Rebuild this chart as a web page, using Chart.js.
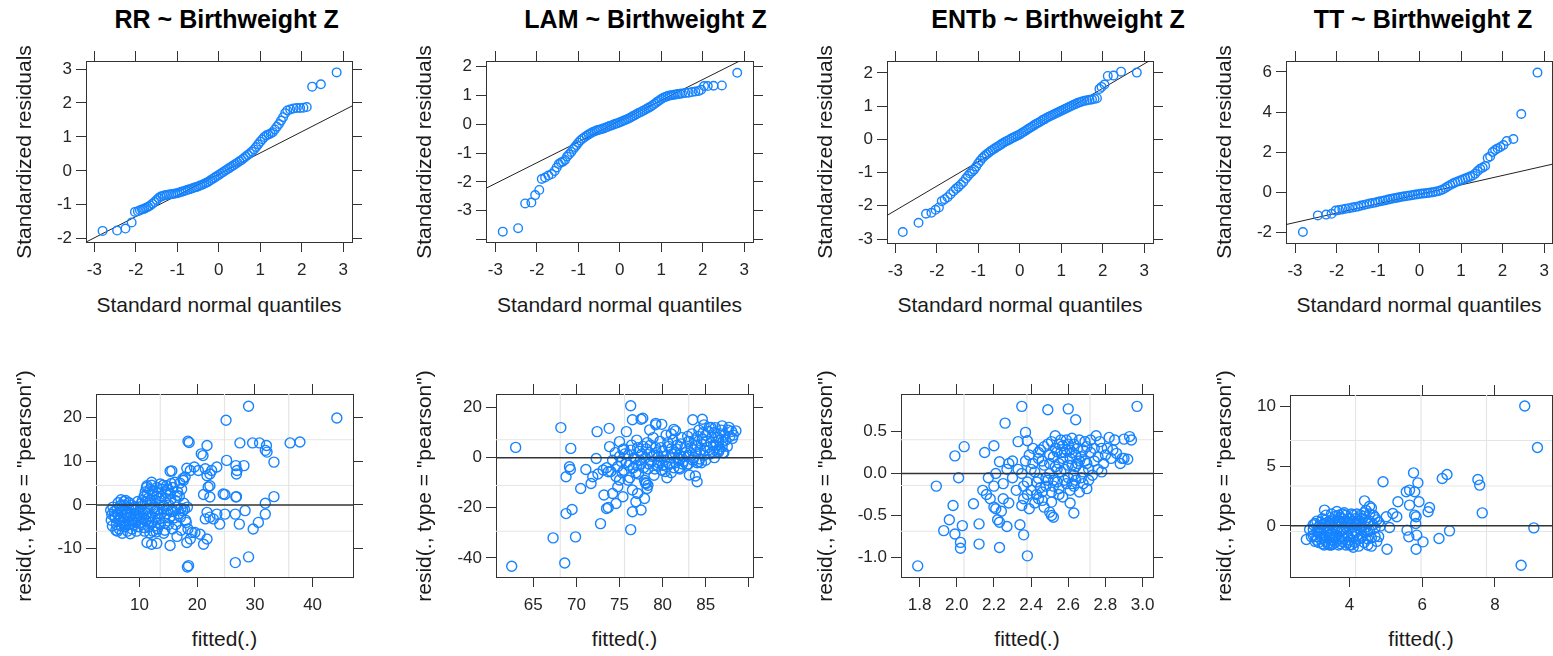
<!DOCTYPE html>
<html><head><meta charset="utf-8">
<script src="https://cdn.jsdelivr.net/npm/chart.js@4.4.1/dist/chart.umd.min.js"></script>
<style>
html,body{margin:0;padding:0;background:#fff;width:1553px;height:656px;overflow:hidden;position:relative;font-family:"Liberation Sans",Arial,Helvetica,sans-serif;}
canvas{position:absolute;}
.t{position:absolute;white-space:nowrap;line-height:1;color:#1a1a1a;}
.title{font-weight:bold;font-size:25px;color:#000;}
.lab{font-size:21px;}
</style></head><body>
<script>
// ---------------- DATA ----------------
const titles = ['RR ~ Birthweight Z','LAM ~ Birthweight Z','ENTb ~ Birthweight Z','TT ~ Birthweight Z'];
const qqXLabel = 'Standard normal quantiles';
const qqYLabel = 'Standardized residuals';
const fitXLabel = 'fitted(.)';
const fitYLabel = 'resid(., type = "pearson")';

const qqXTicks = [-3,-2,-1,0,1,2,3];
const qqXTickLabels = ['-3','-2','-1','0','1','2','3'];
const qqYTicksRR = [-2,-1,0,1,2,3];
const qqYTickLabelsRR = ['-2','-1','0','1','2','3'];
const qqYTicksLAM = [-4,-3,-2,-1,0,1,2];
const qqYTickLabelsLAM = ['','-3','-2','-1','0','1','2'];
const qqYTicksENTb = [-3,-2,-1,0,1,2];
const qqYTickLabelsENTb = ['-3','-2','-1','0','1','2'];
const qqYTicksTT = [-2,0,2,4,6];
const qqYTickLabelsTT = ['-2','0','2','4','6'];

const fitXTicksRR = [10,20,30,40];
const fitXTickLabelsRR = ['10','20','30','40'];
const fitYTicksRR = [-10,0,10,20];
const fitYTickLabelsRR = ['-10','0','10','20'];
const fitXTicksLAM = [65,70,75,80,85,90];
const fitXTickLabelsLAM = ['65','70','75','80','85',''];
const fitYTicksLAM = [-40,-20,0,20];
const fitYTickLabelsLAM = ['-40','-20','0','20'];
const fitXTicksENTb = [1.8,2.0,2.2,2.4,2.6,2.8,3.0];
const fitXTickLabelsENTb = ['1.8','2.0','2.2','2.4','2.6','2.8','3.0'];
const fitYTicksENTb = [-1.0,-0.5,0.0,0.5];
const fitYTickLabelsENTb = ['-1.0','-0.5','0.0','0.5'];
const fitXTicksTT = [4,6,8];
const fitXTickLabelsTT = ['4','6','8'];
const fitYTicksTT = [0,5,10];
const fitYTickLabelsTT = ['0','5','10'];

// QQ points [theoretical quantile, standardized residual]
const qqRR = [[-2.80,-1.77],[-2.45,-1.76],[-2.25,-1.70],[-2.10,-1.52],[-2.02,-1.21],[-1.95,-1.19],[-1.90,-1.16],[-1.85,-1.14],[-1.80,-1.12],[-1.75,-1.09],[-1.70,-1.06],[-1.65,-1.02],[-1.60,-0.97],[-1.55,-0.92],[-1.50,-0.86],[-1.45,-0.80],[-1.40,-0.76],[-1.35,-0.74],[-1.30,-0.72],[-1.25,-0.71],[-1.20,-0.70],[-1.15,-0.69],[-1.10,-0.68],[-1.05,-0.67],[-1.00,-0.66],[-0.95,-0.64],[-0.90,-0.62],[-0.85,-0.60],[-0.80,-0.58],[-0.75,-0.56],[-0.70,-0.54],[-0.65,-0.52],[-0.60,-0.50],[-0.55,-0.48],[-0.50,-0.46],[-0.45,-0.43],[-0.40,-0.41],[-0.35,-0.38],[-0.30,-0.35],[-0.25,-0.32],[-0.20,-0.28],[-0.15,-0.24],[-0.10,-0.20],[-0.05,-0.16],[0.00,-0.12],[0.05,-0.08],[0.10,-0.04],[0.15,0.00],[0.20,0.04],[0.25,0.08],[0.30,0.12],[0.35,0.16],[0.40,0.20],[0.45,0.24],[0.50,0.28],[0.55,0.32],[0.60,0.37],[0.65,0.42],[0.70,0.47],[0.75,0.52],[0.80,0.57],[0.85,0.63],[0.90,0.70],[0.95,0.78],[1.00,0.86],[1.05,0.93],[1.10,1.00],[1.15,1.05],[1.20,1.07],[1.25,1.10],[1.30,1.14],[1.35,1.22],[1.40,1.30],[1.45,1.38],[1.50,1.48],[1.55,1.58],[1.60,1.70],[1.65,1.78],[1.72,1.81],[1.80,1.84],[1.88,1.85],[1.96,1.85],[2.04,1.86],[2.12,1.88],[2.25,2.48],[2.46,2.55],[2.84,2.90]];
const qqLAM = [[-2.82,-3.73],[-2.45,-3.61],[-2.28,-2.75],[-2.13,-2.72],[-2.04,-2.46],[-1.94,-2.28],[-1.88,-1.90],[-1.80,-1.85],[-1.72,-1.78],[-1.64,-1.73],[-1.57,-1.62],[-1.52,-1.50],[-1.47,-1.38],[-1.42,-1.33],[-1.37,-1.30],[-1.32,-1.24],[-1.27,-1.12],[-1.22,-1.04],[-1.17,-0.96],[-1.12,-0.86],[-1.08,-0.79],[-1.04,-0.72],[-1.00,-0.64],[-0.95,-0.56],[-0.90,-0.50],[-0.85,-0.45],[-0.80,-0.40],[-0.75,-0.35],[-0.70,-0.31],[-0.65,-0.27],[-0.60,-0.24],[-0.55,-0.21],[-0.50,-0.19],[-0.45,-0.17],[-0.40,-0.15],[-0.35,-0.12],[-0.30,-0.09],[-0.25,-0.06],[-0.20,-0.04],[-0.15,-0.01],[-0.10,0.02],[-0.05,0.04],[0.00,0.07],[0.05,0.10],[0.10,0.13],[0.15,0.16],[0.20,0.19],[0.25,0.23],[0.30,0.27],[0.35,0.31],[0.40,0.35],[0.45,0.39],[0.50,0.42],[0.55,0.46],[0.60,0.50],[0.65,0.54],[0.70,0.58],[0.75,0.62],[0.80,0.67],[0.85,0.72],[0.90,0.78],[0.95,0.83],[1.00,0.88],[1.05,0.92],[1.10,0.95],[1.15,0.98],[1.20,1.00],[1.25,1.01],[1.30,1.03],[1.35,1.04],[1.40,1.05],[1.45,1.06],[1.50,1.07],[1.58,1.09],[1.66,1.10],[1.74,1.12],[1.82,1.14],[1.90,1.16],[1.96,1.20],[2.03,1.33],[2.12,1.33],[2.26,1.34],[2.46,1.35],[2.83,1.79]];
const qqENTb = [[-2.82,-2.79],[-2.44,-2.51],[-2.26,-2.24],[-2.13,-2.21],[-2.03,-2.12],[-1.95,-2.05],[-1.88,-1.86],[-1.81,-1.80],[-1.74,-1.74],[-1.67,-1.65],[-1.60,-1.56],[-1.54,-1.49],[-1.48,-1.43],[-1.42,-1.36],[-1.36,-1.28],[-1.30,-1.18],[-1.25,-1.10],[-1.20,-1.03],[-1.15,-0.97],[-1.10,-0.91],[-1.05,-0.82],[-1.00,-0.72],[-0.95,-0.64],[-0.90,-0.56],[-0.85,-0.50],[-0.80,-0.45],[-0.75,-0.40],[-0.70,-0.35],[-0.65,-0.31],[-0.60,-0.27],[-0.55,-0.23],[-0.50,-0.19],[-0.45,-0.15],[-0.40,-0.11],[-0.35,-0.07],[-0.30,-0.04],[-0.25,-0.01],[-0.20,0.03],[-0.15,0.06],[-0.10,0.09],[-0.05,0.12],[0.00,0.15],[0.05,0.19],[0.10,0.23],[0.15,0.27],[0.20,0.31],[0.25,0.35],[0.30,0.39],[0.35,0.43],[0.40,0.47],[0.45,0.50],[0.50,0.54],[0.55,0.58],[0.60,0.61],[0.65,0.65],[0.70,0.68],[0.75,0.71],[0.80,0.74],[0.85,0.77],[0.90,0.80],[0.95,0.83],[1.00,0.86],[1.05,0.89],[1.10,0.92],[1.15,0.95],[1.20,0.98],[1.25,1.01],[1.30,1.04],[1.35,1.07],[1.40,1.10],[1.45,1.12],[1.50,1.14],[1.56,1.16],[1.62,1.18],[1.68,1.19],[1.74,1.20],[1.80,1.22],[1.86,1.24],[1.92,1.52],[1.97,1.58],[2.04,1.65],[2.12,1.91],[2.26,1.92],[2.44,2.04],[2.82,2.01]];
const qqTT = [[-2.81,-2.00],[-2.45,-1.17],[-2.25,-1.13],[-2.12,-1.09],[-2.02,-0.93],[-1.94,-0.90],[-1.86,-0.87],[-1.78,-0.84],[-1.70,-0.81],[-1.62,-0.78],[-1.55,-0.75],[-1.48,-0.72],[-1.41,-0.68],[-1.34,-0.65],[-1.27,-0.61],[-1.20,-0.58],[-1.13,-0.55],[-1.06,-0.52],[-1.00,-0.49],[-0.94,-0.46],[-0.88,-0.44],[-0.82,-0.41],[-0.76,-0.38],[-0.70,-0.35],[-0.64,-0.32],[-0.58,-0.30],[-0.52,-0.28],[-0.46,-0.25],[-0.40,-0.23],[-0.34,-0.21],[-0.28,-0.19],[-0.22,-0.17],[-0.16,-0.15],[-0.10,-0.13],[-0.04,-0.11],[0.02,-0.09],[0.08,-0.08],[0.14,-0.06],[0.20,-0.05],[0.26,-0.03],[0.32,-0.01],[0.38,0.01],[0.44,0.04],[0.50,0.08],[0.56,0.13],[0.62,0.20],[0.68,0.28],[0.74,0.35],[0.80,0.42],[0.86,0.48],[0.92,0.53],[0.98,0.58],[1.04,0.63],[1.10,0.68],[1.16,0.72],[1.22,0.77],[1.28,0.83],[1.34,0.92],[1.40,1.05],[1.46,1.16],[1.52,1.22],[1.58,1.30],[1.64,1.70],[1.70,1.78],[1.76,2.00],[1.82,2.10],[1.88,2.18],[1.95,2.25],[2.02,2.35],[2.10,2.55],[2.26,2.65],[2.45,3.90],[2.84,5.97]];

// QQ reference lines (two end points)
const qqLineRR = [[-3.20,-2.10],[3.21,1.91]];
const qqLineLAM = [[-3.22,-2.22],[3.22,2.44]];
const qqLineENTb = [[-3.20,-2.29],[3.21,2.43]];
const qqLineTT = [[-3.22,-1.63],[3.20,1.39]];

// residuals vs fitted [fitted, pearson residual]
const fitRR = [[44.2,19.9],[28.9,22.6],[25.0,19.4],[18.4,14.6],[18.6,14.3],[21.7,13.6],[20.7,11.7],[21.0,11.3],[27.4,14.2],[29.6,14.2],[30.8,14.2],[32.0,13.6],[31.8,12.5],[32.1,12.1],[36.1,14.2],[37.8,14.4],[33.3,9.8],[25.1,10.2],[23.4,8.7],[22.5,7.9],[26.7,9.0],[26.9,7.9],[26.8,7.1],[28.1,9.0],[19.5,8.7],[18.2,8.4],[18.8,7.9],[15.3,7.7],[17.9,6.4],[17.6,5.6],[20.2,7.9],[21.4,8.3],[21.7,6.7],[22.2,7.1],[22.2,4.4],[21.9,4.1],[24.5,2.5],[24.8,2.4],[21.1,2.4],[22.2,1.8],[26.7,1.8],[26.8,1.9],[33.3,1.9],[31.8,0.4],[21.4,-3.2],[23.4,-2.1],[22.8,-3.2],[23.9,-4.4],[21.7,-1.7],[22.2,-2.8],[24.8,-2.1],[26.6,-2.1],[27.3,-4.4],[28.3,-1.3],[29.7,-5.5],[30.6,-4.0],[31.8,-2.1],[19.6,-6.3],[20.5,-6.7],[21.1,-9.0],[21.7,-7.8],[18.8,-7.8],[18.2,-8.6],[18.5,-13.9],[18.3,-14.2],[26.6,-13.2],[28.9,-11.9],[15.3,-9.3],[11.3,-8.6],[12.1,-9.0],[18.4,-5.5],[19.1,-6.3],
[5.0,-1.2],[5.1,-3.5],[5.3,-4.8],[5.2,-2.2],[5.6,-1.5],[5.8,-3.0],[6.0,-4.5],[6.2,-2.0],[6.3,0.5],[6.5,-5.5],[6.6,-3.5],[6.8,1.2],[6.9,-1.0],[7.0,-6.5],[7.1,-4.0],[7.2,-2.5],[7.4,0.0],[7.5,-5.0],[7.6,1.0],[7.8,-3.0],[7.9,-6.0],[8.0,-1.5],[8.2,0.5],[8.3,-4.5],[8.5,-2.0],[8.7,-5.5],[8.8,-3.5],[9.0,-1.0],[9.1,-0.5],[9.3,-4.0],[9.5,-2.5],[9.7,0.8],[9.8,-5.0],[10.0,-3.0],[10.1,-1.5],[10.3,0.3],[10.4,-4.5],[10.6,-2.0],[10.8,2.0],[10.9,-6.0],[11.0,3.0],[11.1,-3.5],[11.2,4.0],[11.3,-1.0],[11.5,1.5],[11.6,-5.0],[11.7,-2.5],[11.8,3.5],[12.0,0.0],[12.1,4.5],[12.2,-4.0],[12.3,-6.0],[12.4,2.5],[12.6,-1.5],[12.7,-3.0],[12.8,1.0],[13.0,4.0],[13.1,-5.5],[13.2,-2.0],[13.3,3.0],[13.5,0.5],[13.6,-4.5],[13.8,2.0],[14.0,-1.0],[14.1,4.5],[14.2,-6.5],[14.3,-3.0],[14.5,1.5],[14.7,-2.0],[14.8,3.5],[15.0,-4.5],[15.1,0.0],[15.3,2.5],[15.5,-1.5],[15.6,7.8],[15.7,-5.5],[15.8,4.0],[16.0,-3.0],[16.2,1.0],[16.4,-0.5],[16.6,3.0],[16.8,-2.0],[17.0,5.0],[17.2,-0.8],[17.5,6.0],[17.8,-1.0],[18.0,-3.5],[18.1,-4.0],[18.3,-0.5],[17.5,-1.3],[16.9,2.0],[11.3,4.4],[12.1,5.2],[13.6,4.8],[14.7,4.4],
[5.4,-0.5],[5.7,-2.6],[5.9,-5.8],[6.1,-1.0],[6.4,-3.2],[6.7,-0.2],[6.8,-4.8],[7.0,-1.8],[7.3,-3.6],[7.3,0.8],[7.7,-2.2],[7.7,-4.4],[8.1,-3.8],[8.1,-0.6],[8.4,-2.8],[8.6,0.0],[8.9,-4.6],[9.2,-2.0],[9.4,-0.8],[9.6,-3.4],[9.9,-1.8],[10.2,-4.0],[10.2,-0.4],[10.5,1.0],[10.7,-3.0],[10.9,-5.2],[11.0,0.6],[11.2,-2.0],[11.4,2.6],[11.6,-3.8],[11.9,1.2],[12.0,-2.6],[12.3,3.2],[12.5,-0.6],[12.6,-4.8],[12.9,2.0],[13.1,-1.0],[13.4,-3.2],[13.4,1.6],[13.7,-2.0],[13.9,3.6],[14.2,-0.2],[14.4,-4.2],[14.6,2.8],[14.9,-1.2],[15.2,-3.0],[15.4,1.2],[15.9,-1.5],[16.3,-4.5],[16.5,2.2],[17.1,-2.8],[17.3,3.6],[17.7,0.4],[16.1,5.2],[14.4,-5.8],[12.9,-6.2],[11.8,-6.4],[9.5,-6.0],[8.4,-6.6],[6.2,-6.0],[13.0,-8.8],[16.5,-7.2],[17.2,-5.8],[15.5,4.9]];
const fitLAM = [[62.5,-43.3],[62.96,4.1],[68.2,12.0],[67.3,-32.0],[68.65,-42.0],[68.8,-22.3],[69.5,-20.7],[69.9,-31.6],[69.35,3.7],[69.2,-3.6],[69.3,-4.7],[68.8,-7.6],[70.5,-12.3],[71.1,-4.7],[71.7,-10.3],[72.3,-0.3],[72.4,10.4],[73.8,11.7],[72.8,-26.3],[73.2,-14.9],[73.5,-20.3],[73.7,-19.9],[73.85,4.4],[71.9,-7.6],[72.5,-6.5],[73.1,-4.9],[73.7,-5.6],[74.6,-18.3],[74.2,-14.3],[74.8,-11.6],[75.0,-8.9],[75.4,-15.6],[76.3,-28.7],[76.3,20.7],[75.8,10.4],[76.5,15.1],[77.5,15.3],[77.7,15.7],[75.0,6.4],[75.4,3.1],[76.5,-21.6],[77.5,-20.9],[76.9,-17.6],[76.5,-12.9],[77.1,-14.3],[77.9,-16.3],[78.1,-10.3],[78.2,-12.3],[83.5,15.1],[84.6,15.3],[84.8,13.1],[85.6,12.1],[86.9,12.7],[87.7,12.1],[88.5,10.7],[88.1,7.7],[86.5,2.4],[87.1,2.0],[83.1,-6.9],[83.8,-7.3],[84.0,-9.6],[84.2,-1.6],[79.2,13.7],[79.9,13.3],[81.3,11.3],[81.5,10.7],[78.5,11.1],[79.2,13.1],
[74.2,-1.0],[74.5,2.0],[74.8,-3.5],[75.0,0.5],[75.3,-6.0],[75.5,3.5],[75.8,-2.0],[76.0,1.0],[76.2,-8.0],[76.4,5.0],[76.6,-4.0],[76.8,-0.5],[77.0,7.0],[77.2,-6.5],[77.3,2.5],[77.5,-2.5],[77.7,4.5],[77.9,-9.0],[78.0,0.0],[78.2,6.0],[78.3,-4.5],[78.5,2.0],[78.7,-1.5],[78.9,8.0],[79.0,-7.0],[79.2,4.0],[79.4,-3.0],[79.5,0.5],[79.7,6.5],[79.9,-5.0],[80.0,2.5],[80.2,-1.0],[80.4,9.0],[80.5,-3.5],[80.7,4.5],[80.9,0.0],[81.0,-6.0],[81.2,7.0],[81.4,2.0],[81.5,-2.0],[81.7,5.0],[81.9,-4.0],[82.0,1.0],[82.2,8.0],[82.4,-1.5],[82.6,4.0],[82.8,-3.0],[83.0,6.5],[83.2,2.0],[83.4,9.5],[83.6,0.0],[83.8,5.0],[84.0,-2.0],[84.2,11.0],[84.4,3.0],[84.6,7.5],[84.8,1.0],[85.0,9.0],[85.2,4.0],[85.4,12.0],[85.6,6.0],[85.8,2.5],[86.0,10.0],[86.2,5.0],[86.4,8.0],[86.6,3.5],[86.8,11.0],[87.0,6.5],[87.2,9.0],[87.5,4.5],[87.8,8.5],[88.0,10.5],[85.0,-1.0],[84.3,-0.5],[83.0,-2.5],[82.0,-4.5],[80.5,-8.0],[78.0,-10.0],[78.3,-11.0],[77.0,-3.0],[76.0,-9.0],[75.5,-5.0],[74.0,-5.5],[73.5,-4.0],[74.6,-7.5],[79.5,-2.0],[81.0,3.5],[82.5,0.5],[84.0,4.5],[86.0,0.0],[86.5,7.0],[87.0,2.0],
[75.2,-1.5],[75.6,1.5],[76.1,-3.0],[76.3,3.0],[76.7,0.0],[76.9,-6.0],[77.1,4.0],[77.4,-1.0],[77.6,1.5],[77.8,-4.0],[78.1,3.5],[78.4,-2.5],[78.6,5.0],[78.8,0.5],[79.1,-4.5],[79.3,2.0],[79.6,-1.0],[79.8,4.0],[80.1,0.5],[80.3,-5.5],[80.6,6.0],[80.8,-2.5],[81.1,1.5],[81.3,-4.0],[81.6,3.5],[81.8,0.0],[82.1,5.5],[82.3,-2.5],[82.7,2.0],[82.9,8.5],[83.3,4.0],[83.5,-1.0],[83.7,7.0],[83.9,2.0],[84.1,8.5],[84.5,5.5],[84.7,10.0],[84.9,3.0],[85.1,6.5],[85.3,10.5],[85.5,1.5],[85.7,8.0],[85.9,5.0],[86.1,12.0],[86.3,2.5],[86.7,9.5],[86.9,4.5],[87.3,7.0],[87.6,11.0],[88.2,9.0],[80.0,-3.0],[82.0,-0.5],[79.0,1.0],[81.0,9.5],[83.0,1.0],[84.5,-2.0]];
const fitENTb = [[1.79,-1.10],[1.89,-0.15],[1.99,0.21],[2.01,-0.05],[2.04,0.32],[1.98,-0.38],[1.96,-0.55],[1.93,-0.68],[1.99,-0.72],[2.02,-0.82],[2.02,-0.89],[2.03,-0.62],[2.09,-0.36],[2.12,-0.60],[2.12,-0.84],[2.15,0.25],[2.20,0.33],[2.23,-0.88],[2.26,0.60],[2.33,0.38],[2.38,0.39],[2.37,0.49],[2.35,0.80],[2.49,0.76],[2.60,0.77],[2.64,0.64],[2.97,0.80],[2.34,-0.61],[2.36,-0.73],[2.38,-0.98],[2.51,-0.34],[2.50,-0.46],[2.51,-0.50],[2.52,-0.52],[2.61,-0.35],[2.63,-0.47],[2.70,-0.18],[2.78,0.02],[2.92,0.17],[2.90,0.18],[2.90,0.41],[2.93,0.44],[2.94,0.40],
[2.14,-0.20],[2.16,-0.25],[2.18,-0.30],[2.20,-0.40],[2.21,-0.42],[2.22,-0.55],[2.24,-0.45],[2.23,-0.58],[2.25,-0.30],[2.27,-0.63],[2.28,-0.35],[2.17,-0.05],[2.20,-0.15],[2.21,0.00],[2.23,0.14],[2.25,-0.12],[2.27,0.05],[2.28,0.12],[2.30,-0.05],[2.30,0.15],[2.32,-0.20],[2.33,0.05],[2.35,-0.38],[2.36,-0.30],[2.37,0.15],[2.38,-0.10],[2.39,-0.42],[2.40,-0.20],[2.41,0.30],[2.42,0.02],[2.43,-0.25],[2.44,-0.06],[2.45,0.28],[2.46,-0.32],[2.47,0.10],[2.48,-0.15],[2.49,0.35],[2.50,0.00],[2.51,-0.22],[2.52,0.20],[2.53,0.45],[2.54,-0.10],[2.55,0.12],[2.56,0.40],[2.57,-0.28],[2.58,0.05],[2.59,0.28],[2.60,-0.05],[2.61,0.18],[2.62,0.42],[2.63,-0.15],[2.64,0.08],[2.65,0.30],[2.66,-0.22],[2.67,0.20],[2.68,0.02],[2.69,0.38],[2.70,0.12],[2.71,-0.08],[2.72,0.25],[2.74,0.15],[2.75,0.45],[2.76,0.05],[2.78,0.30],[2.80,0.22],[2.82,0.43],[2.84,0.28],[2.86,0.24],[2.88,0.12],[2.89,0.18],[2.46,0.15],[2.55,-0.18],[2.58,0.25],[2.62,0.10],[2.53,0.30],[2.44,0.18],[2.50,0.22],[2.57,0.33],[2.60,0.35],[2.66,0.15],[2.48,-0.05],[2.54,0.05],[2.63,-0.02],[2.40,0.05],[2.35,0.00],[2.42,-0.35],[2.45,-0.17],[2.59,-0.12],[2.52,-0.08],[2.64,0.22],[2.56,0.25],[2.61,0.28],
[2.41,0.12],[2.43,-0.10],[2.44,0.25],[2.46,-0.22],[2.47,0.32],[2.49,-0.08],[2.50,0.12],[2.51,0.38],[2.52,-0.15],[2.53,0.08],[2.54,0.26],[2.55,-0.25],[2.56,0.02],[2.57,0.18],[2.58,-0.08],[2.59,0.40],[2.60,0.10],[2.61,-0.20],[2.62,0.25],[2.63,0.35],[2.64,-0.08],[2.65,0.12],[2.66,0.40],[2.67,-0.05],[2.68,0.28],[2.69,0.15],[2.70,0.32],[2.71,0.05],[2.72,0.40],[2.73,-0.02],[2.74,0.30],[2.76,0.20],[2.77,0.38],[2.79,0.12],[2.81,0.30],[2.83,0.18],[2.85,0.40],[2.47,-0.40],[2.44,-0.30],[2.38,-0.25],[2.36,-0.15],[2.39,0.22],[2.55,0.35],[2.62,-0.12],[2.68,-0.12]];
const fitTT = [[8.82,10.06],[9.17,6.58],[8.72,-3.31],[9.07,-0.17],[7.53,3.89],[7.58,3.42],[7.65,1.09],[6.55,3.98],[6.68,4.31],[6.75,-0.42],[6.46,-1.06],[5.76,4.45],[5.88,3.61],[5.56,2.86],[5.65,3.00],[5.79,2.86],[5.91,2.02],[5.33,2.02],[5.65,1.74],[6.20,1.54],[6.16,1.18],[4.92,3.70],[5.79,0.90],[5.83,0.76],[5.19,1.04],[5.30,0.76],[5.82,0.20],[5.58,-0.36],[5.63,-0.92],[5.85,-0.78],[5.83,-1.96],[6.02,-1.34],[5.03,-1.96],[5.10,-0.14],[5.01,0.76],[4.41,2.10],[4.55,1.65],[3.31,1.32],[2.81,-1.15],
[2.9,-0.3],[3.0,-0.8],[3.05,0.2],[3.1,-1.2],[3.15,-0.5],[3.2,0.3],[3.25,-1.0],[3.3,-0.2],[3.35,0.5],[3.4,-1.5],[3.45,-0.7],[3.5,0.1],[3.55,-1.2],[3.6,0.8],[3.65,-0.4],[3.7,-1.6],[3.75,0.3],[3.8,-0.9],[3.85,1.1],[3.9,-0.1],[3.95,-1.4],[4.0,0.6],[4.05,-0.6],[4.1,-1.8],[4.15,0.2],[4.2,1.0],[4.25,-1.1],[4.3,-0.3],[4.35,0.6],[4.4,-1.4],[4.45,1.3],[4.5,-0.5],[4.55,0.4],[4.6,-1.0],[4.65,0.9],[4.7,-0.2],[4.75,-1.3],[4.8,0.3],[3.3,-1.6],[3.5,-1.6],[3.6,-0.2],[3.7,0.4],[3.8,-1.3],[3.4,0.0],[3.2,-0.6],[4.0,-1.2],[4.1,0.9],[3.9,0.9],[3.75,-0.5],[4.2,-0.8],[4.3,0.2],[3.55,0.5],[3.65,1.2],[3.45,-1.0],[3.35,-0.9],[3.6,-1.0],[3.9,-0.6],[4.05,0.1],[4.4,0.8],[4.5,-1.6],[4.55,1.0],[4.6,1.5],[4.7,0.7],[4.8,-0.9],[4.85,0.0],[4.45,-0.1],[4.25,0.4],[3.95,0.3],[3.85,-0.3],[3.15,-0.1],[3.0,-0.3],[3.1,0.4],[3.25,0.6],[3.5,1.0],[4.05,-1.6],[3.8,0.6],[4.15,-0.4],[4.35,-0.8],[3.7,-1.1],[3.4,0.3],
[2.95,-0.9],[3.0,0.1],[3.05,-1.3],[3.1,-0.5],[3.15,-1.4],[3.2,-0.2],[3.25,-1.5],[3.3,0.2],[3.3,-0.8],[3.35,-1.3],[3.4,-0.4],[3.45,0.4],[3.45,-1.6],[3.5,-0.6],[3.55,-0.1],[3.55,-1.5],[3.6,0.3],[3.6,-1.4],[3.65,-0.8],[3.7,-0.1],[3.7,0.9],[3.75,-1.5],[3.75,0.7],[3.8,-0.3],[3.85,-1.1],[3.85,0.4],[3.9,-1.6],[3.9,0.3],[3.95,-0.8],[4.0,-0.2],[4.0,-1.6],[4.05,1.0],[4.1,-0.9],[4.1,0.4],[4.15,-1.4],[4.2,0.1],[4.2,-0.5],[4.25,-1.7],[4.3,0.9],[4.3,-1.0],[4.35,-0.1],[4.4,-0.5],[4.45,0.5],[4.5,-1.1],[4.5,0.2],[4.55,-0.4],[4.6,-1.7],[4.65,0.1],[4.7,-0.9],[4.75,0.5],[3.35,0.9],[3.25,0.1],[3.5,-1.0],[3.65,0.5],[3.8,1.0],[4.0,0.3],[4.15,0.6],[4.4,1.1],[3.1,-0.9],[3.2,-1.1]];

const fitRefY = [0];

// ---------------- LAYOUT ----------------
const FONT = '"Liberation Sans", Arial, Helvetica, sans-serif';
const panels = [
  {box:[86,61,266,181],  xr:[-3.20,3.21], yr:[-2.097,3.236], xt:qqXTicks, xl:qqXTickLabels, yt:qqYTicksRR, yl:qqYTickLabelsRR, pts:qqRR, line:qqLineRR, r:4.3},
  {box:[486,61,267,181], xr:[-3.224,3.21], yr:[-4.09,2.20], xt:qqXTicks, xl:qqXTickLabels, yt:qqYTicksLAM, yl:qqYTickLabelsLAM, pts:qqLAM, line:qqLineLAM, r:4.3},
  {box:[887,61,266,182], xr:[-3.20,3.21], yr:[-3.12,2.36], xt:qqXTicks, xl:qqXTickLabels, yt:qqYTicksENTb, yl:qqYTickLabelsENTb, pts:qqENTb, line:qqLineENTb, r:4.3},
  {box:[1286,61,266,182], xr:[-3.217,3.19], yr:[-2.55,6.55], xt:qqXTicks, xl:qqXTickLabels, yt:qqYTicksTT, yl:qqYTickLabelsTT, pts:qqTT, line:qqLineTT, r:4.3},
  {box:[96,394,257,183], xr:[2.46,47.0], yr:[-16.5,25.4], xt:fitXTicksRR, xl:fitXTickLabelsRR, yt:fitYTicksRR, yl:fitYTickLabelsRR, pts:fitRR, grid:true, href:fitRefY, r:5},
  {box:[496,394,257,183], xr:[60.68,90.48], yr:[-47.6,25.4], xt:fitXTicksLAM, xl:fitXTickLabelsLAM, yt:fitYTicksLAM, yl:fitYTickLabelsLAM, pts:fitLAM, grid:true, href:fitRefY, r:5},
  {box:[901,394,252,183], xr:[1.70,3.056], yr:[-1.232,0.947], xt:fitXTicksENTb, xl:fitXTickLabelsENTb, yt:fitYTicksENTb, yl:fitYTickLabelsENTb, pts:fitENTb, grid:true, href:fitRefY, r:5},
  {box:[1290,395,262,182], xr:[2.36,9.57], yr:[-4.29,10.98], xt:fitXTicksTT, xl:fitXTickLabelsTT, yt:fitYTicksTT, yl:fitYTickLabelsTT, pts:fitTT, grid:true, href:fitRefY, r:5}
];
const titleX = [226.7,645.5,1058,1423];
const ylabX = [23,423,823.5,1223];

function addText(txt, cls, cx, cy, rot){
  const d = document.createElement('div');
  d.className = 't ' + cls; d.textContent = txt;
  d.style.left = cx + 'px'; d.style.top = cy + 'px';
  d.style.transform = 'translate(-50%,-50%)' + (rot ? ' rotate(-90deg)' : '');
  document.body.appendChild(d);
}

function buildPanel(p){
  const ML=70, MR=14, MT=14, MB=46;
  const [bx,by,bw,bh] = p.box;
  const W = bw+ML+MR, H = bh+MT+MB;
  const cv = document.createElement('canvas');
  cv.width = W; cv.height = H;
  Object.assign(cv.style,{left:(bx-ML)+'px', top:(by-MT)+'px', width:W+'px', height:H+'px'});
  document.body.appendChild(cv);
  const axis = (pos, range, ticks, labels, size) => {
    const horiz = (pos==='top'||pos==='bottom');
    const showLab = (pos==='bottom'||pos==='left');
    return {
      type:'linear', position:pos, min:range[0], max:range[1],
      afterBuildTicks: s => { s.ticks = ticks.map(v => ({value:v})); },
      afterFit: s => { if (horiz) s.height = size; else s.width = size; s.paddingLeft=0; s.paddingRight=0; s.paddingTop=0; s.paddingBottom=0; },
      ticks: { display:showLab, autoSkip:false, maxRotation:0, minRotation:0, padding: horiz ? 8 : 4, color:'#262626', font:{family:FONT, size:17},
        callback: v => { const i = ticks.indexOf(v); return i < 0 ? '' : labels[i]; } },
      grid: { display:true, drawOnChartArea:false, drawTicks:true, tickLength:10, color:'#333', lineWidth:1 },
      border: { display:true, color:'#333', width:1 }
    };
  };
  const datasets = [{
    data: p.pts.map(([x,y]) => ({x,y})),
    pointStyle:'circle', pointRadius:p.r, pointBorderWidth:1.4,
    pointBorderColor:'#1683ff', pointBackgroundColor:'rgba(0,0,0,0)', showLine:false,
    xAxisID:'x', yAxisID:'y'
  }];
  if (p.line) datasets.push({
    data: p.line.map(([x,y]) => ({x,y})), showLine:true, pointRadius:0,
    borderColor:'#222', borderWidth:1, fill:false, xAxisID:'x', yAxisID:'y'
  });
  const plugins = [{
    id:'latticeGrid',
    beforeDatasetsDraw(chart){
      if (!p.grid) return;
      const {ctx, chartArea:a} = chart;
      ctx.save(); ctx.strokeStyle = '#e5e5e5'; ctx.lineWidth = 1.2; ctx.beginPath();
      for (const f of [0.25,0.5,0.75]){
        const x = a.left + f*(a.right-a.left), y = a.top + f*(a.bottom-a.top);
        ctx.moveTo(x,a.top); ctx.lineTo(x,a.bottom);
        ctx.moveTo(a.left,y); ctx.lineTo(a.right,y);
      }
      ctx.stroke(); ctx.restore();
    }
  },{
    id:'refLine',
    afterDatasetsDraw(chart){
      if (!p.href) return;
      const {ctx, chartArea:a, scales} = chart;
      ctx.save(); ctx.strokeStyle = '#333'; ctx.lineWidth = 1.5;
      for (const v of p.href){
        const y = scales.y.getPixelForValue(v);
        ctx.beginPath(); ctx.moveTo(a.left,y); ctx.lineTo(a.right,y); ctx.stroke();
      }
      ctx.restore();
    }
  }];
  new Chart(cv, {
    type:'scatter',
    data:{datasets},
    options:{
      responsive:false, animation:false, devicePixelRatio:1, events:[],
      layout:{padding:0, autoPadding:false},
      plugins:{legend:{display:false}, tooltip:{enabled:false}, title:{display:false}},
      scales:{
        x: axis('bottom', p.xr, p.xt, p.xl, MB),
        x2: axis('top', p.xr, p.xt, p.xl, MT),
        y: axis('left', p.yr, p.yt, p.yl, ML),
        y2: axis('right', p.yr, p.yt, p.yl, MR)
      }
    },
    plugins
  });
}

panels.forEach(buildPanel);

for (let i=0;i<4;i++){
  const top = panels[i], bot = panels[i+4];
  addText(titles[i], 'title', titleX[i], 18.6, false);
  addText(qqXLabel, 'lab', top.box[0]+top.box[2]/2, 304, false);
  addText(qqYLabel, 'lab', ylabX[i], top.box[1]+top.box[3]/2, true);
  addText(fitXLabel, 'lab', bot.box[0]+bot.box[2]/2, 638, false);
  addText(fitYLabel, 'lab', ylabX[i], bot.box[1]+bot.box[3]/2, true);
}
</script>
</body></html>
